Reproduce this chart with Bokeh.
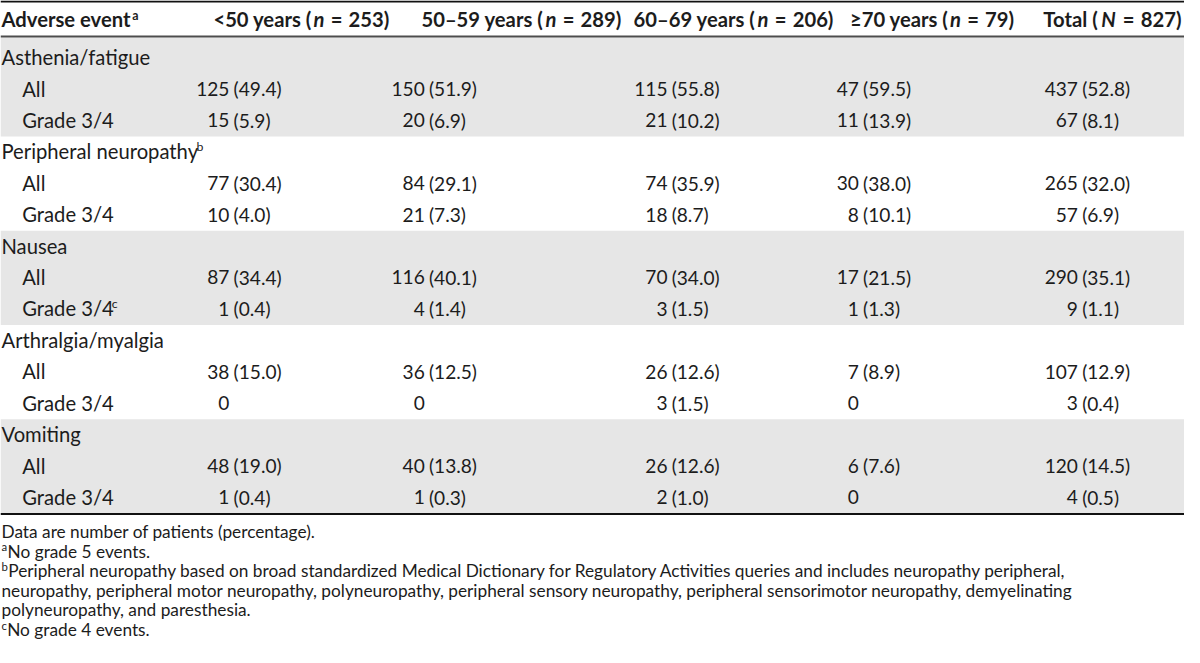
from bokeh.plotting import figure
from bokeh.models import Range1d, ColumnDataSource
from bokeh.core.properties import value
from bokeh.embed import file_html
from bokeh.resources import INLINE

# ---------------- data ----------------
groups = ["Asthenia/fatigue", "Peripheral neuropathy", "Nausea", "Arthralgia/myalgia", "Vomiting"]
group_sup = ["", "b", "", "", ""]
sub_labels = ["All", "Grade 3/4"]
grade_sup = ["", "", "c", "", ""]

col_prefix = ["<50 years (", "50\u201359 years (", "60\u201369 years (", "\u226570 years (", "Total ("]
col_sym = ["n", "n", "n", "n", "N"]
col_n = [253, 289, 206, 79, 827]

lt50_counts = [125, 15, 77, 10, 87, 1, 38, 0, 48, 1]
lt50_pct = [49.4, 5.9, 30.4, 4.0, 34.4, 0.4, 15.0, None, 19.0, 0.4]
y50_59_counts = [150, 20, 84, 21, 116, 4, 36, 0, 40, 1]
y50_59_pct = [51.9, 6.9, 29.1, 7.3, 40.1, 1.4, 12.5, None, 13.8, 0.3]
y60_69_counts = [115, 21, 74, 18, 70, 3, 26, 3, 26, 2]
y60_69_pct = [55.8, 10.2, 35.9, 8.7, 34.0, 1.5, 12.6, 1.5, 12.6, 1.0]
ge70_counts = [47, 11, 30, 8, 17, 1, 7, 0, 6, 0]
ge70_pct = [59.5, 13.9, 38.0, 10.1, 21.5, 1.3, 8.9, None, 7.6, None]
total_counts = [437, 67, 265, 57, 290, 9, 107, 3, 120, 4]
total_pct = [52.8, 8.1, 32.0, 6.9, 35.1, 1.1, 12.9, 0.4, 14.5, 0.5]

all_counts = [lt50_counts, y50_59_counts, y60_69_counts, ge70_counts, total_counts]
all_pcts = [lt50_pct, y50_59_pct, y60_69_pct, ge70_pct, total_pct]

fn_sup = ["", "a", "b", "", "", "c"]
fn_text = [
    "Data are number of patients (percentage).",
    "No grade 5 events.",
    "Peripheral neuropathy based on broad standardized Medical Dictionary for Regulatory Activities queries and includes neuropathy peripheral,",
    "neuropathy, peripheral motor neuropathy, polyneuropathy, peripheral sensory neuropathy, peripheral sensorimotor neuropathy, demyelinating",
    "polyneuropathy, and paresthesia.",
    "No grade 4 events.",
]

# ---------------- layout ----------------
W, H = 1200, 663
FW, FH = 1184, 647
kx = FW / W
ky = FH / H
FONT = "Lato"
INK = "#1c1c1c"
SHADE = "#e6e6e6"
MID = 0.387  # Lato: distance from baseline up to em-box middle, in em

hdr_line = 37.0
first_base = 66.0
pitch = 32.2
band_pad = 9.0
hdr_base = 27.0
hdr_center = [306, 529, 744, 945, 1128]
tabs = [232, 430, 676, 870, 1092]
label_x = 1
sub_x = 22
fn_base0 = 551
fn_step = 20

body_px = 20.5 * kx
data_px = 19.4 * kx
hdr_px = 20.5 * kx
fn_px = 17.5 * kx
sup_px = 12.5 * kx
fsup_px = 11.5 * kx

_w = {' ': .193, '(': .30, ')': .30, '<': .58, '=': .58, '\u2265': .58, '\u2013': .56, '.': .23,
      '/': .36, ',': .23, 'A': .68, 'G': .72, 'N': .76, 'T': .58, 'P': .60, 'V': .66, 'D': .74,
      'M': .88, 'R': .62, 'a': .49, 'b': .55, 'c': .46, 'd': .55, 'e': .52, 'f': .33, 'g': .49,
      'h': .55, 'i': .24, 'j': .24, 'k': .50, 'l': .24, 'm': .83, 'n': .55, 'o': .55, 'p': .54,
      'q': .55, 'r': .36, 's': .41, 't': .35, 'u': .55, 'v': .50, 'w': .76, 'x': .50, 'y': .50, 'z': .45}


def tw(s, px, bold=False):
    w = 0.0
    for ch in s:
        w += .58 if ch.isdigit() else _w.get(ch, .52)
    return w * px * (1.04 if bold else 1.0) / kx


def base(i):
    return first_base + i * pitch


p = figure(width=FW, height=FH, output_backend="svg", toolbar_location=None,
           x_range=Range1d(0, W), y_range=Range1d(H, 0), min_border=0,
           background_fill_color="white", border_fill_color="white", outline_line_color=None)
p.axis.visible = False
p.grid.visible = False

# shading bands for alternate groups
n_rows = 3 * len(groups)
bounds = [hdr_line + 1] + [base(3 * g + 2) + band_pad for g in range(len(groups))]
shaded = [g for g in range(len(groups)) if g % 2 == 0]
p.quad(left=[0] * len(shaded), right=[W] * len(shaded), top=[bounds[g] for g in shaded],
       bottom=[bounds[g + 1] for g in shaded], fill_color=SHADE, line_color=None)

# rules
table_bottom = base(n_rows - 1) + band_pad + 0.5
p.segment(x0=[0, 0, 0], x1=[W, W, W], y0=[1, hdr_line, table_bottom],
          y1=[1, hdr_line, table_bottom], line_color=["#111111", "#4d4d4d", "#111111"],
          line_width=[2, 2, 2])


def txt(xs, ys, texts, px, align="left", style="normal", color=INK):
    # ys are baselines; text is anchored at the em-box middle
    off = MID * px / ky
    src = ColumnDataSource(dict(x=xs, y=[y - off for y in ys], t=texts))
    p.text(x="x", y="y", text="t", source=src, text_font=value(FONT),
           text_font_size=value(f"{px:.2f}px"), text_font_style=value(style),
           text_align=value(align), text_baseline=value("middle"), text_color=value(color))


# header
txt([label_x], [hdr_base], ["Adverse event"], hdr_px, style="bold")
txt([label_x + tw("Adverse event", hdr_px, True) + 1], [hdr_base - 7], ["a"], sup_px, style="bold")
for j in range(5):
    sp = tw(" ", hdr_px, True) * 1.4
    pieces = [(col_prefix[j], "bold", 0.0), (col_sym[j], "bold italic", 1.0),
              ("=", "bold", sp), (f"{col_n[j]})", "bold", sp)]
    total = sum(tw(s, hdr_px, True) + g for s, _, g in pieces)
    x = hdr_center[j] - total / 2
    for s, st, g in pieces:
        x += g
        txt([x], [hdr_base], [s], hdr_px, style=st)
        x += tw(s, hdr_px, True)

# row labels
gx, gy, gt = [], [], []
sx, sy, st = [], [], []
for g, name in enumerate(groups):
    i0 = 3 * g
    gx.append(label_x); gy.append(base(i0)); gt.append(name)
    if group_sup[g]:
        sx.append(label_x + tw(name, body_px) + 1.5); sy.append(base(i0) - 8); st.append(group_sup[g])
    for k, lab in enumerate(sub_labels):
        gx.append(sub_x); gy.append(base(i0 + k + 1)); gt.append(lab)
        if k == 1 and grade_sup[g]:
            sx.append(sub_x + tw(lab, body_px) + 1.5); sy.append(base(i0 + k + 1) - 8)
            st.append(grade_sup[g])
txt(gx, gy, gt, body_px)
txt(sx, sy, st, sup_px)

# data cells: counts right-aligned at tab, percentages after a space
gap = tw(" ", data_px) + 0.5
cx, cy, ct = [], [], []
qx, qy, qt = [], [], []
for j in range(5):
    for r, (cnt, pc) in enumerate(zip(all_counts[j], all_pcts[j])):
        g, k = divmod(r, 2)
        yb = base(3 * g + k + 1)
        cx.append(tabs[j]); cy.append(yb); ct.append(str(cnt))
        if pc is not None:
            qx.append(tabs[j] + gap); qy.append(yb); qt.append(f"({pc:.1f})")
txt(cx, cy, ct, data_px, align="right")
txt(qx, qy, qt, data_px)

# footnotes
fx, fy, ft = [], [], []
ux, uy, ut = [], [], []
for i, (s, t) in enumerate(zip(fn_sup, fn_text)):
    yb = fn_base0 + i * fn_step
    x0 = label_x
    if s:
        ux.append(label_x); uy.append(yb - 6.5); ut.append(s)
        x0 = label_x + tw(s, fsup_px) + 0.5
    fx.append(x0); fy.append(yb); ft.append(t)
txt(fx, fy, ft, fn_px)
txt(ux, uy, ut, fsup_px)

open("out.html", "w").write(file_html(p, INLINE))
